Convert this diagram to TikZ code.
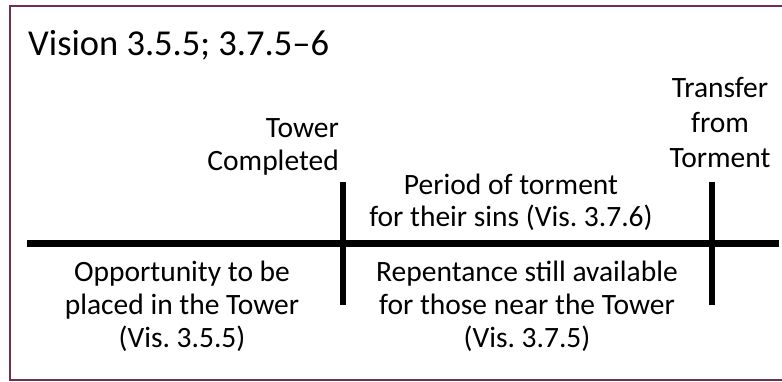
\documentclass[tikz,border=0pt]{standalone}
\usepackage{fontspec}
\setmainfont{Carlito}
\frenchspacing
\definecolor{frame}{RGB}{112,46,80}
\tikzset{
  lbl/.style={inner sep=0pt, font=\fontsize{29.5}{33}\selectfont, align=center},
  bar/.style={line width=6.5pt, black},
}
\begin{document}
\begin{tikzpicture}[x=1pt,y=-1pt]
\useasboundingbox (0,0) rectangle (782,381);
\draw[frame, line width=2pt] (10,6) rectangle (795,379.5);
\node[inner sep=0pt, anchor=base west, font=\fontsize{36.5}{40}\selectfont] (title) at (28,55) {Vision 3.5.5; 3.7.5–6};
\coordinate (hl) at (27,243.5);
\coordinate (hr) at (779,243.5);
\coordinate (v1t) at (343,182);
\coordinate (v1b) at (343,305);
\coordinate (v2t) at (712,182);
\coordinate (v2b) at (712,305);
\draw[bar] (hl) -- (hr);
\draw[bar] (v1t) -- (v1b);
\draw[bar] (v2t) -- (v2b);
\node[lbl, align=right, anchor=base east] (tc) at (339,170) {Tower\\Completed};
\node[lbl, font=\fontsize{29.5}{35}\selectfont, anchor=base] (tf) at (720,167) {Transfer\\from\\Torment};
\node[lbl, font=\fontsize{29.5}{31.5}\selectfont, anchor=base] (pt) at (511,226) {Period of torment\\for their sins (Vis. 3.7.6)};
\node[lbl, anchor=base] (op) at (182,347) {Opportunity to be\\placed in the Tower\\(Vis. 3.5.5)};
\node[lbl, anchor=base] (rp) at (527,347) {Repentance still available\\for those near the Tower\\(Vis. 3.7.5)};
\end{tikzpicture}
\end{document}
